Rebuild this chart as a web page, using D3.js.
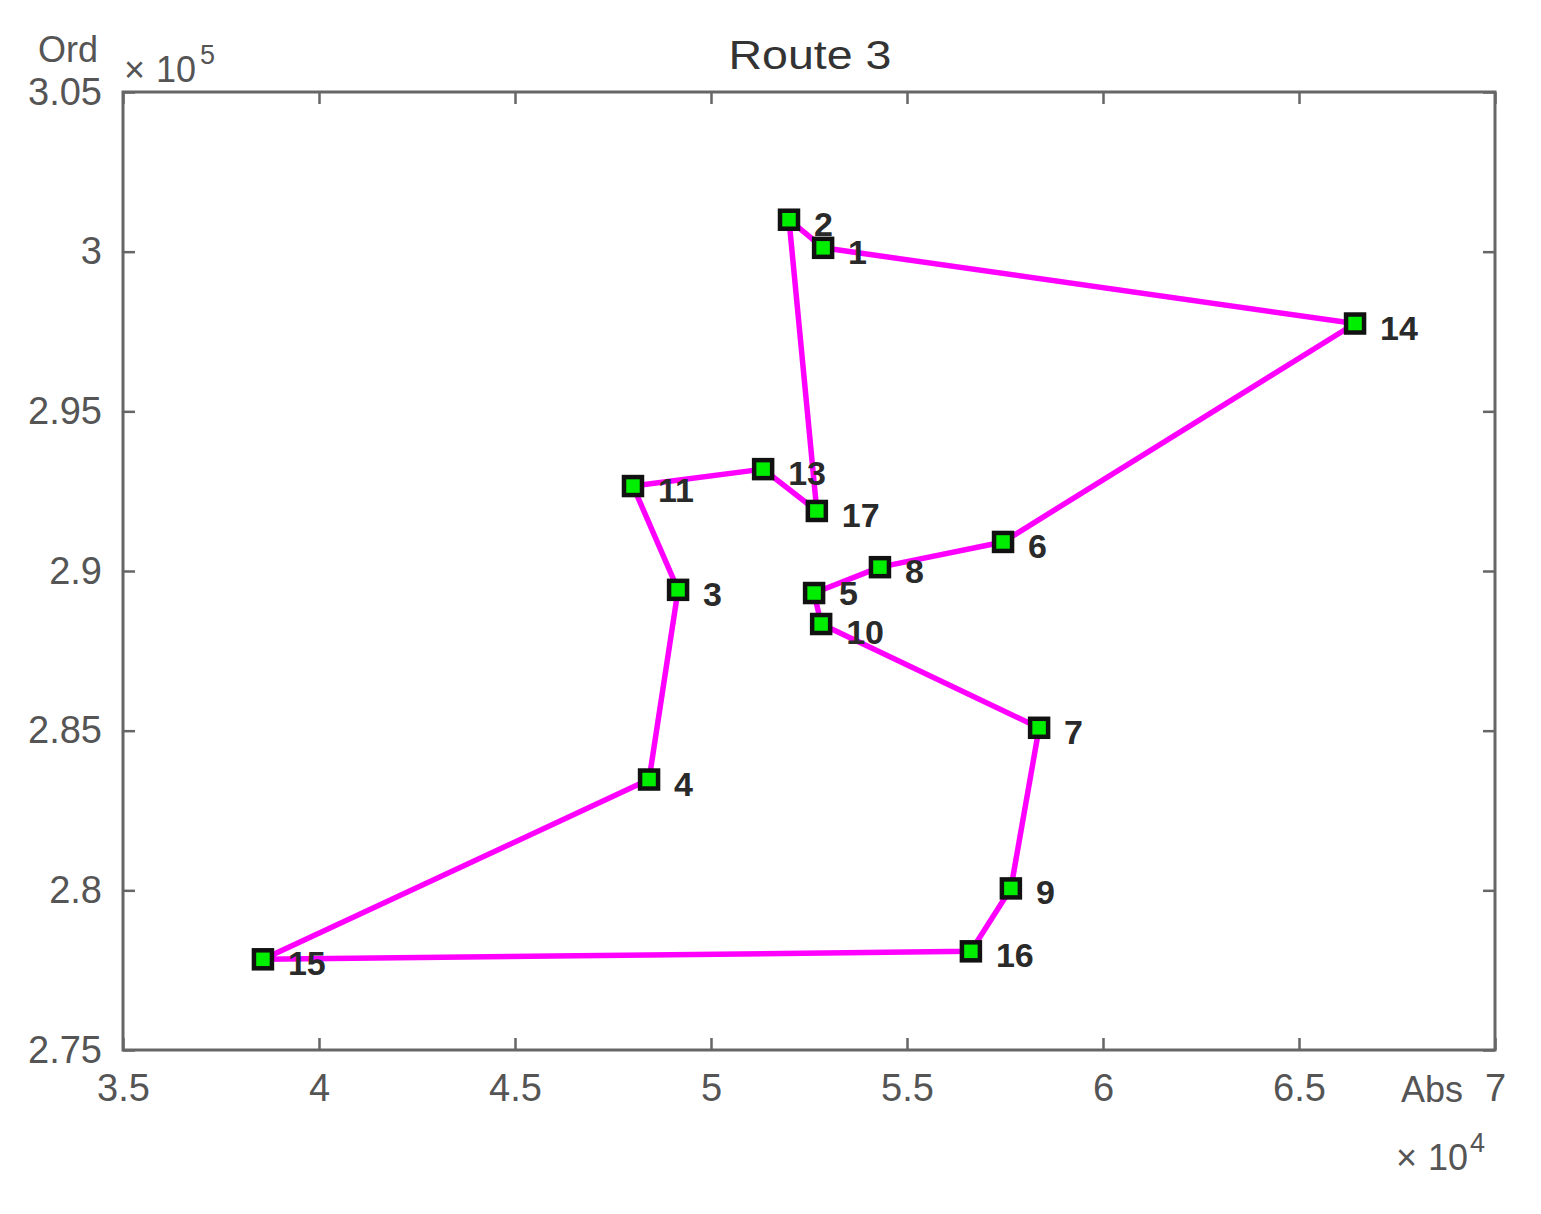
<!DOCTYPE html>
<html><head><meta charset="utf-8">
<script src="https://cdn.jsdelivr.net/npm/d3@7"></script>
<style>html,body{margin:0;padding:0;background:#fff;}svg{display:block;font-family:"Liberation Sans",Arial,sans-serif;}</style>
</head><body>
<script>
// Data (stop ids, abscissa, ordinate) – route order, closed loop
const stopIds = [1, 14, 6, 8, 5, 10, 7, 9, 16, 15, 4, 3, 11, 13, 17, 2];
const absValues = [52860, 66430, 57450, 54310, 52630, 52810, 58370, 57650, 56630, 38570, 48420, 49160, 48010, 51330, 52700, 51990];
const ordValues = [300120, 297750, 290910, 290120, 289310, 288340, 285090, 280060, 278090, 277840, 283470, 289410, 292660, 293190, 291880, 301000];
const xTicks = [3.5, 4, 4.5, 5, 5.5, 6, 6.5, 7];
const yTicks = [2.75, 2.8, 2.85, 2.9, 2.95, 3, 3.05];
const titleText = "Route 3";

const W = 1541, H = 1214;
const m = {left:123, right:W-1495, top:92, bottom:H-1050};
const svg = d3.select("body").append("svg").attr("width", W).attr("height", H);
const x = d3.scaleLinear().domain([35000, 70000]).range([m.left, W - m.right]);
const y = d3.scaleLinear().domain([275000, 305000]).range([H - m.bottom, m.top]);

const pts = stopIds.map((id, i) => ({id, x: absValues[i], y: ordValues[i]}));

const axisColor = "#666", tickTextColor = "#555";
const fs = 38;
function styleAxis(g){
  g.select(".domain").remove();
  g.selectAll(".tick line").attr("stroke", axisColor).attr("stroke-width", 2.5);
  g.selectAll(".tick text").attr("fill", tickTextColor).attr("font-size", fs);
}
svg.append("g").attr("transform", `translate(0,${y.range()[0]})`)
  .call(d3.axisBottom(x).tickValues(xTicks.map(v=>v*1e4)).tickFormat(d=>d3.format("")(d/1e4)).tickSizeInner(-12).tickPadding(24))
  .call(styleAxis);
svg.append("g").attr("transform", `translate(0,${m.top})`)
  .call(d3.axisTop(x).tickValues(xTicks.map(v=>v*1e4)).tickFormat("").tickSizeInner(-12))
  .call(styleAxis);
svg.append("g").attr("transform", `translate(${m.left},0)`)
  .call(d3.axisLeft(y).tickValues(yTicks.map(v=>v*1e5)).tickFormat(d=>d3.format("")(+(d/1e5).toFixed(2))).tickSizeInner(-12).tickPadding(21))
  .call(styleAxis);
svg.append("g").attr("transform", `translate(${W-m.right},0)`)
  .call(d3.axisRight(y).tickValues(yTicks.map(v=>v*1e5)).tickFormat("").tickSizeInner(-12))
  .call(styleAxis);

// box
svg.append("rect").attr("x", m.left).attr("y", m.top)
  .attr("width", W - m.left - m.right).attr("height", H - m.top - m.bottom)
  .attr("fill", "none").attr("stroke", axisColor).attr("stroke-width", 3);

// route line
const line = d3.line().x(d=>x(d.x)).y(d=>y(d.y));
svg.append("path").datum(pts.concat([pts[0]])).attr("d", line)
  .attr("fill", "none").attr("stroke", "#ff00ff").attr("stroke-width", 5.5).attr("stroke-linejoin", "round");

// markers
svg.append("g").selectAll("rect").data(pts).join("rect")
  .attr("x", d=>x(d.x)-9).attr("y", d=>y(d.y)-9).attr("width", 18).attr("height", 18)
  .attr("fill", "#00ee00").attr("stroke", "#111").attr("stroke-width", 4.5);

// labels (tight pair 5/10 nudged apart slightly)
const nudge = id => id === 5 ? -4 : (id === 10 ? 4 : 0);
svg.append("g").selectAll("text").data(pts).join("text")
  .attr("x", d=>x(d.x)+25).attr("y", d=>y(d.y)+16+nudge(d.id))
  .attr("font-size", 34).attr("font-weight", "bold").attr("fill", "#2a2a2a")
  .text(d=>d.id);

// title
svg.append("text").attr("x", 810).attr("y", 69).attr("text-anchor", "middle")
  .attr("font-size", 40).attr("fill", "#333")
  .attr("textLength", 163).attr("lengthAdjust", "spacingAndGlyphs").text(titleText);

// axis labels and exponents
svg.append("text").attr("x", 68).attr("y", 62).attr("text-anchor", "middle").attr("font-size", 36).attr("fill", tickTextColor).text("Ord");
const e5 = svg.append("text").attr("y", 82).attr("font-size", 36).attr("fill", tickTextColor);
e5.append("tspan").attr("x", 124).text("×");
e5.append("tspan").attr("x", 156).text("10");
e5.append("tspan").attr("x", 200).attr("dy", -18).attr("font-size", 27).text("5");
svg.append("text").attr("x", 1432).attr("y", 1102).attr("text-anchor", "middle").attr("font-size", 36).attr("fill", tickTextColor).text("Abs");
const e4 = svg.append("text").attr("y", 1170).attr("font-size", 36).attr("fill", tickTextColor);
e4.append("tspan").attr("x", 1396).text("×");
e4.append("tspan").attr("x", 1428).text("10");
e4.append("tspan").attr("x", 1470).attr("dy", -18).attr("font-size", 27).text("4");
</script>
</body></html>
